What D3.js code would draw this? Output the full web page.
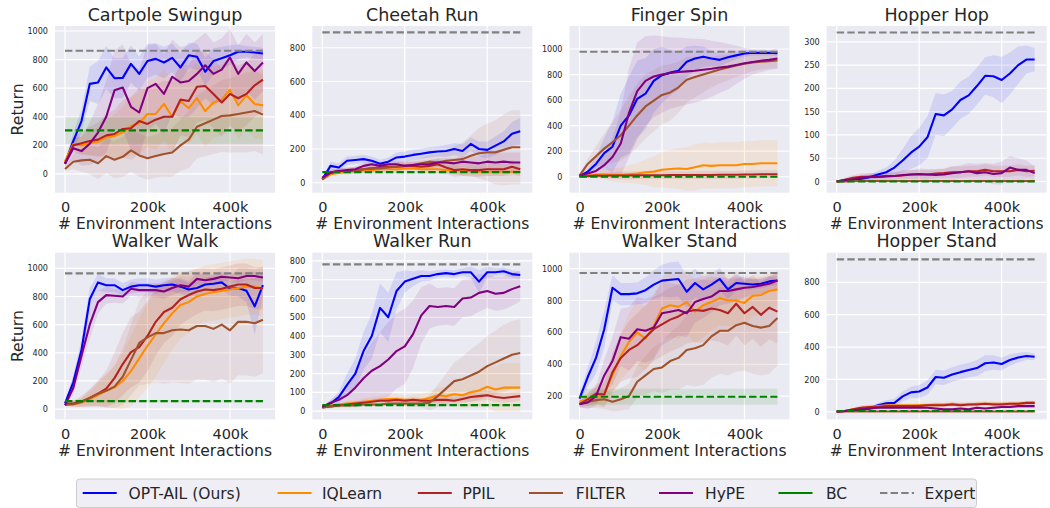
<!DOCTYPE html>
<html><head><meta charset="utf-8">
<script src="https://cdn.jsdelivr.net/npm/d3@7"></script>
<style>
body{margin:0;background:#fff}
svg text{font-family:"DejaVu Sans",sans-serif;fill:#262626}
</style>
</head><body>
<svg id="c" width="1050" height="508"></svg>
<script>
// ---------------- DATA ----------------
// x positions (thousands of environment interactions)
const steps = [0,20,40,60,80,100,120,140,160,180,200,220,240,260,280,300,320,340,360,380,400,420,440,460,480];
const titles = ["Cartpole Swingup","Cheetah Run","Finger Spin","Hopper Hop","Walker Walk","Walker Run","Walker Stand","Hopper Stand"];
const methods = ["OPT-AIL (Ours)","IQLearn","PPIL","FILTER","HyPE","BC","Expert"];
const xTickValues = [0,200,400];
const yTickValues = [
  [0,200,400,600,800,1000],
  [0,200,400,600,800],
  [0,200,400,600,800,1000],
  [0,50,100,150,200,250,300],
  [0,200,400,600,800,1000],
  [0,100,200,300,400,500,600,700,800],
  [200,400,600,800,1000],
  [0,200,400,600,800]
];
const yDomains = [[-131,1035],[-59,929],[-125,1180],[-24,334],[-73,1111],[-44,844],[54,1100],[-47,983]];

// mean returns, one row per task (same order as titles)
const OPT_AIL = [
  [72,230,370,630,640,745,670,672,770,700,790,805,780,812,745,830,820,715,790,810,830,855,855,850,843],
  [20,100,90,130,135,140,130,112,125,150,155,165,172,180,185,188,200,188,230,200,195,220,245,290,305],
  [5,40,100,185,235,400,480,610,650,750,795,815,830,900,925,940,925,915,935,950,965,970,970,970,968],
  [0,2,4,6,9,15,20,30,45,62,75,95,145,142,155,175,185,205,227,226,218,232,250,262,262],
  [40,190,420,780,900,880,880,845,870,880,880,870,880,885,870,850,860,885,890,900,855,860,840,730,880],
  [23,40,75,140,200,320,400,550,500,640,690,705,720,720,730,735,730,740,740,690,740,740,745,730,725],
  [185,320,440,620,880,840,840,845,865,900,925,930,935,855,910,870,900,935,870,910,905,900,905,920,925],
  [0,5,8,12,20,40,52,55,95,120,125,150,215,210,230,245,258,270,300,305,295,320,335,345,340]
];
const OPT_AIL_SD = [
  [15,60,80,120,150,150,140,140,130,120,120,110,110,100,100,90,90,100,90,80,70,50,40,40,40],
  [10,25,25,25,25,25,25,25,25,30,30,30,30,30,30,35,35,40,40,45,50,55,60,70,80],
  [5,20,60,120,200,250,300,300,280,250,220,180,150,120,100,80,60,50,40,30,25,20,20,20,20],
  [1,2,3,4,5,8,10,15,25,35,40,45,45,45,40,40,40,40,40,45,50,45,40,30,25],
  [10,50,80,80,60,50,50,50,50,50,50,50,50,50,50,50,50,50,50,50,50,60,80,200,80],
  [5,15,30,60,80,100,120,130,130,100,60,40,30,25,20,20,20,20,30,60,30,20,20,20,20],
  [20,60,100,120,80,70,70,70,80,90,100,110,110,100,90,80,70,70,60,50,40,30,30,30,30],
  [2,3,5,8,10,15,20,25,30,35,40,45,45,45,45,45,45,50,50,45,40,35,30,25,20]
];
const IQLEARN = [
  [90,210,200,215,225,255,265,290,335,355,420,420,490,400,510,460,530,440,500,520,590,480,550,490,480],
  [20,50,60,65,70,75,75,80,80,80,85,85,80,80,80,75,75,70,70,65,65,65,65,65,65],
  [5,10,15,20,15,15,20,25,35,40,55,60,65,60,75,90,85,90,90,90,100,100,105,105,105],
  [0,1,1,1,1,1,1,1,1,1,1,1,1,1,1,1,1,1,1,1,1,1,1,1,1],
  [40,35,45,70,100,130,155,200,270,360,450,530,610,680,740,760,800,820,830,840,850,860,870,870,855],
  [25,30,35,40,45,50,55,60,65,65,60,60,60,70,85,80,90,85,100,110,130,115,125,125,125],
  [165,180,195,215,330,450,540,600,560,640,750,770,760,790,730,770,790,815,800,800,785,830,835,860,870],
  [0,5,15,25,30,35,40,40,40,40,42,42,45,45,50,45,45,50,50,50,50,50,50,55,55]
];
const IQLEARN_SD = [
  [20,40,60,80,100,120,150,180,200,220,230,250,250,250,250,250,250,250,250,250,240,240,240,240,240],
  [10,15,15,15,15,15,15,20,20,20,20,20,20,25,25,25,25,25,25,25,25,25,25,25,25],
  [5,15,30,40,50,60,70,80,100,120,140,150,160,170,180,180,180,180,180,180,180,180,180,180,180],
  [1,1,1,1,1,1,1,1,1,1,1,1,1,1,1,1,1,1,1,1,1,1,1,1,1],
  [10,20,30,50,80,110,150,200,250,280,300,300,280,260,240,220,200,200,200,200,200,200,200,200,200],
  [5,10,10,15,15,20,20,20,25,25,25,30,30,35,40,50,60,70,80,90,110,120,130,130,130],
  [20,40,60,80,120,150,180,200,200,200,200,200,200,200,200,200,180,170,160,150,140,130,120,110,100],
  [2,5,10,15,15,15,15,15,15,15,15,15,15,15,15,15,15,15,15,15,15,15,15,15,15]
];
const PPIL = [
  [72,200,215,230,240,270,280,315,320,370,350,380,400,400,520,510,610,615,560,500,560,530,560,620,660],
  [25,60,70,70,75,80,85,90,95,95,100,100,95,100,110,90,75,80,75,75,80,80,80,95,80],
  [3,5,10,8,10,10,10,12,12,12,12,13,13,13,13,14,14,15,15,15,18,18,20,20,20],
  [0,4,8,10,10,10,12,12,13,15,15,15,17,18,20,20,22,22,25,22,22,22,25,22,23],
  [40,40,55,80,110,145,220,320,405,440,520,620,690,720,780,810,835,850,845,855,870,885,885,860,860],
  [20,25,30,35,40,45,50,55,55,60,55,60,55,55,60,60,55,65,75,80,85,75,70,75,80],
  [150,180,215,210,350,440,490,520,570,620,650,680,700,730,740,735,750,740,720,780,720,760,710,755,730],
  [0,5,15,25,30,30,35,35,35,35,35,40,40,40,45,40,45,45,50,45,45,50,50,55,55]
];
const PPIL_SD = [
  [20,50,80,100,120,150,170,200,220,230,240,250,250,250,250,250,250,240,240,240,230,230,220,220,220],
  [10,15,15,20,20,20,20,20,20,25,25,25,25,30,30,35,40,40,40,40,40,40,40,40,40],
  [5,10,15,20,25,30,30,30,30,30,30,30,30,30,30,30,30,30,30,30,30,30,30,30,30],
  [1,4,6,8,8,8,8,8,8,10,10,10,10,10,12,12,12,12,12,12,12,12,12,12,12],
  [10,20,40,60,90,130,180,220,250,250,250,240,220,200,180,170,160,150,150,150,150,150,150,150,150],
  [5,10,10,10,10,15,15,15,15,15,15,15,15,15,20,20,20,20,25,25,25,25,25,25,25],
  [20,40,60,80,120,150,180,200,200,200,200,200,200,200,200,200,200,200,200,200,200,200,200,200,200],
  [2,5,10,12,12,12,12,12,12,12,12,12,12,12,12,12,12,12,12,12,12,12,12,12,12]
];
const FILTER = [
  [35,85,95,100,75,125,100,120,165,130,110,125,140,150,200,240,330,355,380,405,410,420,430,440,415],
  [20,60,70,70,75,80,85,85,90,95,100,105,115,125,120,130,135,140,160,175,180,180,195,210,210],
  [8,100,160,220,270,325,400,480,550,595,640,660,700,760,780,800,820,840,855,870,885,895,900,905,910],
  [0,0,1,1,1,1,1,1,1,1,1,1,1,1,1,1,1,1,1,1,1,1,1,1,1],
  [30,35,50,80,110,130,160,230,350,470,510,540,540,560,565,560,590,590,570,600,560,620,620,610,635],
  [20,25,30,30,30,35,35,35,40,40,40,40,40,45,80,120,160,170,190,210,240,260,280,300,310],
  [150,165,175,180,165,180,200,290,330,370,380,420,440,490,500,520,575,610,610,645,660,640,630,640,690],
  [0,2,2,2,2,2,2,2,2,2,2,2,2,2,2,2,2,2,2,2,2,2,2,2,2]
];
const FILTER_SD = [
  [15,50,80,100,110,120,130,140,150,150,150,150,160,170,180,200,220,230,240,250,260,270,280,280,280],
  [10,15,15,15,15,20,20,20,25,25,30,30,35,40,50,60,80,100,120,150,170,190,210,220,220],
  [5,40,80,120,160,200,230,250,250,240,230,220,200,180,160,140,120,110,100,90,80,70,60,60,60],
  [1,1,1,1,1,1,1,1,1,1,1,1,1,1,1,1,1,1,1,1,1,1,1,1,1],
  [10,20,30,60,90,120,150,200,250,300,330,350,360,370,380,380,380,380,380,380,380,380,380,380,380],
  [5,10,10,10,10,10,10,10,10,10,15,15,20,40,60,80,100,120,140,150,160,170,180,180,180],
  [20,40,50,60,60,70,80,100,120,140,160,180,200,220,240,250,260,270,280,290,300,300,300,300,300],
  [2,3,3,3,3,3,3,3,3,3,3,3,3,3,3,3,3,3,3,3,3,3,3,3,3]
];
const HYPE = [
  [72,180,160,212,290,400,585,605,470,430,600,630,560,680,640,650,700,760,700,730,815,700,780,720,780],
  [30,60,70,75,80,100,110,100,110,110,100,105,110,110,120,120,115,125,120,115,125,120,125,120,120],
  [8,25,45,90,155,260,500,670,750,785,800,812,820,825,830,838,845,855,862,875,888,898,908,915,925],
  [0,3,5,8,10,10,11,12,14,15,16,15,14,15,18,20,22,18,20,16,18,30,25,25,18],
  [28,150,380,600,760,810,805,800,855,845,845,845,835,860,880,870,925,915,925,940,935,930,945,945,935],
  [23,45,60,85,125,175,215,240,275,320,345,410,510,560,555,560,555,600,605,630,640,625,630,650,665],
  [150,160,200,330,420,570,560,620,610,630,720,730,740,720,790,810,825,860,860,870,880,885,895,905,925],
  [0,5,10,15,20,25,25,25,25,25,25,25,20,15,15,20,15,25,20,25,30,30,35,35,35]
];
const HYPE_SD = [
  [20,80,100,150,200,250,280,300,300,300,300,280,280,260,250,250,240,230,220,220,200,200,200,200,200],
  [10,15,15,15,15,20,20,20,20,20,20,20,20,25,25,25,30,30,35,40,45,50,55,60,60],
  [5,20,40,80,150,250,350,380,350,320,300,280,270,260,250,240,220,200,180,150,120,100,90,80,80],
  [1,3,5,6,8,8,8,8,10,10,12,12,12,12,15,15,18,20,20,22,25,25,25,20,15],
  [10,50,80,100,80,60,50,50,50,50,50,50,50,50,50,40,40,40,30,30,30,30,30,30,30],
  [5,15,30,50,80,120,150,180,200,200,200,180,150,120,100,100,100,100,100,100,90,90,90,90,80],
  [20,40,60,100,150,180,200,200,200,200,200,180,160,150,130,120,100,90,80,70,60,50,50,50,50],
  [2,5,8,10,10,10,10,10,10,10,10,10,10,10,10,10,10,10,10,10,10,10,10,12,12]
];
const BC = [305,63,0,0,57,32,196,5];
const BC_SD = [95,5,3,1,8,5,50,2];
const EXPERT = [862,891,979,320,964,782,973,942];

// ---------------- STYLE / LAYOUT ----------------
const colors = ["#0000ff","#ff8c00","#b22222","#a0522d","#800080","#008000","#808080"];
const curveMeans = [OPT_AIL, IQLEARN, PPIL, FILTER, HYPE];
const curveSds = [OPT_AIL_SD, IQLEARN_SD, PPIL_SD, FILTER_SD, HYPE_SD];
const lefts = [55, 312.3, 569.5, 826.7], tops = [26, 252.7];
const pw = 220, ph = 166.7;

const svg = d3.select("#c");
const defs = svg.append("defs");

titles.forEach((title, i) => {
  const col = i % 4, row = Math.floor(i / 4);
  const x0 = lefts[col], y0 = tops[row];
  const x = d3.scaleLinear().domain([-24.25, 509.25]).range([x0, x0 + pw]);
  const y = d3.scaleLinear().domain(yDomains[i]).range([y0 + ph, y0]);
  const g = svg.append("g");
  defs.append("clipPath").attr("id", "clip" + i)
    .append("rect").attr("x", x0).attr("y", y0).attr("width", pw).attr("height", ph);

  g.append("rect").attr("x", x0).attr("y", y0).attr("width", pw).attr("height", ph).attr("fill", "#eaeaf2");
  g.selectAll(".gy").data(yTickValues[i]).enter().append("line")
    .attr("x1", x0).attr("x2", x0 + pw).attr("y1", d => y(d)).attr("y2", d => y(d))
    .attr("stroke", "#fff").attr("stroke-width", 1.2);
  g.selectAll(".gx").data(xTickValues).enter().append("line")
    .attr("y1", y0).attr("y2", y0 + ph).attr("x1", d => x(d)).attr("x2", d => x(d))
    .attr("stroke", "#fff").attr("stroke-width", 1.2);

  const pg = g.append("g").attr("clip-path", "url(#clip" + i + ")");
  const xmin = steps[0], xmax = steps[steps.length - 1];

  curveMeans.forEach((M, m) => {
    const mean = M[i], sd = curveSds[m][i];
    const area = d3.area().x((d, k) => x(steps[k])).y0((d, k) => y(mean[k] - sd[k])).y1((d, k) => y(mean[k] + sd[k]));
    pg.append("path").datum(mean).attr("d", area).attr("fill", colors[m]).attr("fill-opacity", 0.1);
  });
  pg.append("rect").attr("x", x(xmin)).attr("width", x(xmax) - x(xmin))
    .attr("y", y(BC[i] + BC_SD[i])).attr("height", y(BC[i] - BC_SD[i]) - y(BC[i] + BC_SD[i]))
    .attr("fill", colors[5]).attr("fill-opacity", 0.1);

  curveMeans.forEach((M, m) => {
    const line = d3.line().x((d, k) => x(steps[k])).y(d => y(d));
    pg.append("path").datum(M[i]).attr("d", line).attr("fill", "none")
      .attr("stroke", colors[m]).attr("stroke-width", 2.1).attr("stroke-linejoin", "round");
  });
  pg.append("line").attr("x1", x(xmin)).attr("x2", x(xmax)).attr("y1", y(BC[i])).attr("y2", y(BC[i]))
    .attr("stroke", colors[5]).attr("stroke-width", 2.1).attr("stroke-dasharray", "7.4,3.2");
  pg.append("line").attr("x1", x(xmin)).attr("x2", x(xmax)).attr("y1", y(EXPERT[i])).attr("y2", y(EXPERT[i]))
    .attr("stroke", colors[6]).attr("stroke-width", 2.1).attr("stroke-dasharray", "7.4,3.2");

  const ax = g.append("g").attr("transform", `translate(0,${y0 + ph})`)
    .call(d3.axisBottom(x).tickValues(xTickValues).tickFormat(d => d === 0 ? "0" : d + "k").tickSize(0).tickPadding(9));
  ax.select(".domain").remove();
  ax.selectAll("text").style("font-size", "14.5px").attr("fill", "#262626");
  const ay = g.append("g").attr("transform", `translate(${x0},0)`)
    .call(d3.axisLeft(y).tickValues(yTickValues[i]).tickFormat(d3.format("d")).tickSize(0).tickPadding(7));
  ay.select(".domain").remove();
  ay.selectAll("text").style("font-size", "8.1px").attr("fill", "#333");

  g.append("text").attr("x", x0 + pw / 2).attr("y", y0 - 5.3).attr("text-anchor", "middle")
    .style("font-size", "17.5px").text(title);
  g.append("text").attr("x", x0 + pw / 2).attr("y", y0 + ph + 36.3).attr("text-anchor", "middle")
    .style("font-size", "15.5px").text("# Environment Interactions");
  if (col === 0) {
    g.append("text").attr("transform", `translate(22.5,${y0 + ph / 2}) rotate(-90)`).attr("text-anchor", "middle")
      .style("font-size", "15.7px").text("Return");
  }
});

const lg = svg.append("g");
lg.append("rect").attr("x", 76.5).attr("y", 479).attr("width", 900).attr("height", 28.5).attr("rx", 3)
  .attr("fill", "#eeeef4").attr("stroke", "#cccccc").attr("stroke-width", 1);
const legLineX = [82.7, 277.6, 417.8, 529, 659, 778.5, 880];
const legTextX = [128.6, 322, 462.5, 575.8, 705, 826, 924.6];
methods.forEach((name, m) => {
  lg.append("line").attr("x1", legLineX[m]).attr("x2", legLineX[m] + 34).attr("y1", 493).attr("y2", 493)
    .attr("stroke", colors[m]).attr("stroke-width", 2.1)
    .attr("stroke-dasharray", m === 6 ? "7.4,3.2" : null);
  lg.append("text").attr("x", legTextX[m]).attr("y", 498.5).style("font-size", "15.5px").text(name);
});
</script>
</body></html>
